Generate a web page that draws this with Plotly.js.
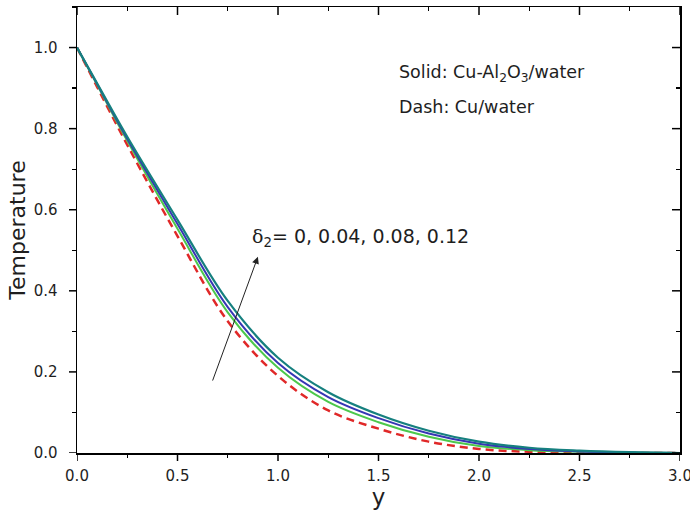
<!DOCTYPE html>
<html>
<head>
<meta charset="utf-8">
<script src="https://cdn.plot.ly/plotly-3.0.1.min.js"></script>
<style>html,body{margin:0;padding:0;background:#fff;}</style>
</head>
<body>
<div id="chart" style="width:690px;height:515px;"></div>
<script>
// Data
const yPos = [0, 0.1, 0.25, 0.5, 0.75, 1.0, 1.25, 1.5, 1.75, 2.0, 2.25, 2.5, 2.75, 3.0];
const tempTeal  = [1, 0.912, 0.780, 0.575, 0.375, 0.235, 0.150, 0.095, 0.055, 0.028, 0.013, 0.006, 0.002, 0];
const tempBlue  = [1, 0.910, 0.775, 0.565, 0.360, 0.222, 0.138, 0.086, 0.048, 0.023, 0.010, 0.004, 0.001, 0];
const tempGreen = [1, 0.908, 0.770, 0.553, 0.347, 0.210, 0.126, 0.076, 0.040, 0.017, 0.007, 0.003, 0.001, 0];
const tempRed   = [1, 0.903, 0.760, 0.535, 0.325, 0.190, 0.105, 0.060, 0.028, 0.010, 0.003, 0.001, 0.000, 0];
const xTicks = [0, 0.5, 1.0, 1.5, 2.0, 2.5, 3.0];
const yTicks = [0, 0.2, 0.4, 0.6, 0.8, 1.0];

const FONT = 'DejaVu Sans, Arial, sans-serif';
const TXT = '#1e1e1e';
const xRange = [0, 3];
const yRange = [0, 1.1];
const xStep = xTicks[1] - xTicks[0];
const yStep = yTicks[1] - yTicks[0];

function line(y, color, dash, width) {
  return {x: yPos, y: y, type: 'scatter', mode: 'lines',
    line: {color: color, width: width, dash: dash, shape: 'spline', smoothing: 1.0},
    showlegend: false, hoverinfo: 'skip'};
}
// invisible copy so that the extra tick-only axes get drawn
function ghost(n) {
  return {x: yPos, y: tempTeal, xaxis: 'x' + n, yaxis: 'y' + n, type: 'scatter', mode: 'lines',
    line: {color: 'rgba(0,0,0,0)', width: 0.1}, opacity: 0, showlegend: false, hoverinfo: 'skip'};
}

const traces = [
  line(tempRed, '#e02828', '8px,5px', 2.5),
  line(tempGreen, '#4cc84c', 'solid', 2),
  line(tempBlue, '#3636b4', 'solid', 2),
  line(tempTeal, '#16807f', 'solid', 2.2),
  ghost(2), ghost(3), ghost(4)
];

// tick-only overlay axis (minor ticks)
function tickAxis(extra) {
  return Object.assign({
    showline: false, showgrid: false, zeroline: false, showticklabels: false,
    tickcolor: '#000', tickwidth: 1.3, automargin: false, tickmode: 'linear'
  }, extra);
}

// major tick marks as pixel-sized shapes anchored at the tick values
const TICK = {color: '#000', width: 1.5};
const MAJ = 8;
const tickShapes = [];
xTicks.forEach(v => {
  tickShapes.push({type: 'line', xref: 'x', yref: 'paper', x0: v, x1: v,
    ysizemode: 'pixel', yanchor: 0, y0: 0, y1: -MAJ, line: TICK, layer: 'above'});
  tickShapes.push({type: 'line', xref: 'x', yref: 'paper', x0: v, x1: v,
    ysizemode: 'pixel', yanchor: 1, y0: 0, y1: -MAJ, line: TICK, layer: 'above'});
});
yTicks.forEach(v => {
  tickShapes.push({type: 'line', xref: 'paper', yref: 'y', y0: v, y1: v,
    xsizemode: 'pixel', xanchor: 0, x0: 0, x1: -MAJ, line: TICK, layer: 'above'});
  tickShapes.push({type: 'line', xref: 'paper', yref: 'y', y0: v, y1: v,
    xsizemode: 'pixel', xanchor: 1, x0: 0, x1: -MAJ, line: TICK, layer: 'above'});
});

const layout = {
  width: 690, height: 515,
  margin: {l: 77, r: 10, t: 7, b: 62},
  paper_bgcolor: '#fff', plot_bgcolor: '#fff',
  font: {family: FONT, color: TXT},
  // main axes: bottom/left lines + labels
  xaxis: {
    range: xRange, tickmode: 'linear', tick0: xTicks[0], dtick: xStep, tickformat: '.1f',
    showline: true, linecolor: '#000', linewidth: 1.5, showgrid: false, zeroline: false,
    ticks: 'outside', ticklen: 8, tickcolor: 'rgba(0,0,0,0)', ticklabeloverflow: 'allow',
    tickfont: {family: FONT, size: 15, color: TXT}, automargin: false,
    title: {text: 'y', font: {family: FONT, size: 23, color: TXT}, standoff: 4}
  },
  yaxis: {
    range: yRange, tickmode: 'linear', tick0: yTicks[0], dtick: yStep, tickformat: '.1f',
    showline: true, linecolor: '#000', linewidth: 1.5, showgrid: false, zeroline: false,
    ticks: 'outside', ticklen: 15, tickcolor: 'rgba(0,0,0,0)', ticklabeloverflow: 'allow',
    tickfont: {family: FONT, size: 15, color: TXT}, automargin: false,
    title: {text: 'Temperature', font: {family: FONT, size: 22, color: TXT}, standoff: 2}
  },
  // top / right frame lines
  xaxis2: {overlaying: 'x', side: 'top', anchor: 'y2', range: xRange, showticklabels: false,
    showline: true, linecolor: '#000', linewidth: 1.5, showgrid: false, zeroline: false, ticks: ''},
  yaxis2: {overlaying: 'y', side: 'right', anchor: 'x2', range: yRange, showticklabels: false,
    showline: true, linecolor: '#000', linewidth: 1.5, showgrid: false, zeroline: false, ticks: ''},
  // minor ticks bottom/left (outward)
  xaxis3: tickAxis({overlaying: 'x', side: 'bottom', anchor: 'y3', range: xRange,
    tick0: xTicks[0] + xStep / 2, dtick: xStep, ticks: 'outside', ticklen: 4}),
  yaxis3: tickAxis({overlaying: 'y', side: 'left', anchor: 'x3', range: yRange,
    tick0: yTicks[0] + yStep / 2, dtick: yStep, ticks: 'outside', ticklen: 4}),
  // minor ticks top/right (inward)
  xaxis4: tickAxis({overlaying: 'x', side: 'top', anchor: 'y4', range: xRange,
    tick0: xTicks[0] + xStep / 2, dtick: xStep, ticks: 'inside', ticklen: 4}),
  yaxis4: tickAxis({overlaying: 'y', side: 'right', anchor: 'x4', range: yRange,
    tick0: yTicks[0] + yStep / 2, dtick: yStep, ticks: 'inside', ticklen: 4}),
  shapes: tickShapes,
  annotations: [
    {x: 0.90, y: 0.484, ax: 0.672, ay: 0.175, xref: 'x', yref: 'y', axref: 'x', ayref: 'y',
     text: '', showarrow: true, arrowhead: 2, arrowsize: 1.4, arrowwidth: 1, arrowcolor: '#222'},
    {x: 0.86, y: 0.531, xref: 'x', yref: 'y', xanchor: 'left', yanchor: 'middle', showarrow: false,
     text: '<span style="font-family:DejaVu Serif, serif">δ</span><sub>2</sub>= 0, 0.04, 0.08, 0.12',
     font: {family: FONT, size: 19, color: TXT}},
    {x: 1.592, y: 0.935, xref: 'x', yref: 'y', xanchor: 'left', yanchor: 'middle', showarrow: false,
     text: 'Solid: Cu-Al<sub>2</sub>O<sub>3</sub>/water',
     font: {family: FONT, size: 17.5, color: TXT}},
    {x: 1.592, y: 0.854, xref: 'x', yref: 'y', xanchor: 'left', yanchor: 'middle', showarrow: false,
     text: 'Dash: Cu/water',
     font: {family: FONT, size: 17.5, color: TXT}}
  ]
};

Plotly.newPlot('chart', traces, layout, {staticPlot: true, displayModeBar: false});
</script>
</body>
</html>
